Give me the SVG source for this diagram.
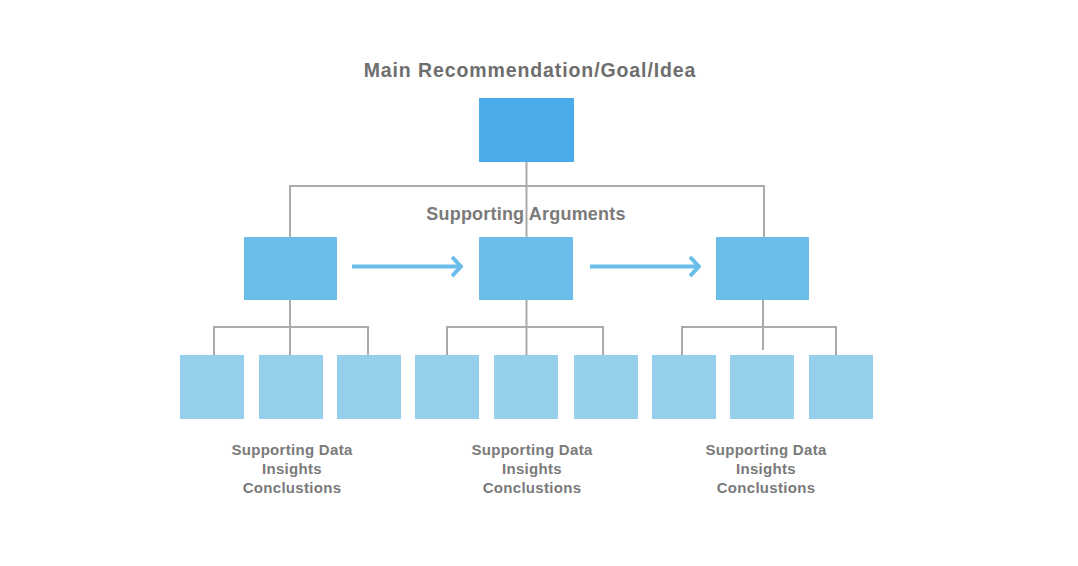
<svg xmlns="http://www.w3.org/2000/svg" width="1078" height="566" viewBox="0 0 1078 566">
<style>
.title{font-family:"Liberation Sans",Arial,sans-serif;font-weight:bold;font-size:19.5px;letter-spacing:0.9px;fill:#6e6e6e;text-anchor:middle}
.sub{font-family:"Liberation Sans",Arial,sans-serif;font-weight:bold;font-size:18px;letter-spacing:0.2px;fill:#7a7a7a;text-anchor:middle}
.lbl{font-family:"Liberation Sans",Arial,sans-serif;font-weight:bold;font-size:15px;letter-spacing:0.3px;fill:#7a7a7a;text-anchor:middle}
.top{fill:#4BAAE8}
.mid{fill:#6CBEEA}
.bot{fill:#95CFEC}
.ln{stroke:#ababab;stroke-width:2;fill:none}
.arr{stroke:#6CBEEA;stroke-width:4;fill:none;marker-end:url(#chev)}
</style>
<defs>
<marker id="chev" viewBox="0 0 12 22" refX="10" refY="11" markerWidth="12" markerHeight="22" markerUnits="userSpaceOnUse" orient="auto">
<polyline points="1,1.5 10,11 1,20.5" fill="none" stroke="#6CBEEA" stroke-width="4"/>
</marker>
</defs>
<rect width="1078" height="566" fill="#ffffff"/>
<g id="connectors">
<path class="ln" d="M526.5 162 V237 M290 186 H764 M290 185 V237 M764 185 V237"/>
<path class="ln" d="M290 300 V327 M214 327 H368 M214 326 V355 M290 327 V355 M368 326 V355"/>
<path class="ln" d="M526.5 300 V327 M447 327 H603 M447 326 V355 M526.5 327 V355 M603 326 V355"/>
<path class="ln" d="M763 300 V327 M682 327 H836 M682 326 V355 M763 327 V350 M836 326 V355"/>
<line class="arr" x1="352" y1="266.5" x2="461" y2="266.5"/>
<line class="arr" x1="590" y1="266.5" x2="699" y2="266.5"/>
</g>
<g id="title"><text class="title" x="530" y="77">Main Recommendation/Goal/Idea</text></g>
<g id="main"><rect class="top" x="479" y="98" width="95" height="64"/></g>
<g id="args-label"><text class="sub" x="526" y="220">Supporting Arguments</text></g>
<g id="arg1"><rect class="mid" x="244" y="237" width="93" height="63"/></g>
<g id="arg2"><rect class="mid" x="479" y="237" width="94" height="63"/></g>
<g id="arg3"><rect class="mid" x="716" y="237" width="93" height="63"/></g>
<g id="d1a"><rect class="bot" x="180" y="355" width="64" height="64"/></g>
<g id="d1b"><rect class="bot" x="259" y="355" width="64" height="64"/></g>
<g id="d1c"><rect class="bot" x="337" y="355" width="64" height="64"/></g>
<g id="d2a"><rect class="bot" x="415" y="355" width="64" height="64"/></g>
<g id="d2b"><rect class="bot" x="494" y="355" width="64" height="64"/></g>
<g id="d2c"><rect class="bot" x="574" y="355" width="64" height="64"/></g>
<g id="d3a"><rect class="bot" x="652" y="355" width="64" height="64"/></g>
<g id="d3b"><rect class="bot" x="730" y="355" width="64" height="64"/></g>
<g id="d3c"><rect class="bot" x="809" y="355" width="64" height="64"/></g>
<g id="label1"><text class="lbl" x="292" y="455">Supporting Data</text><text class="lbl" x="292" y="474">Insights</text><text class="lbl" x="292" y="493">Conclustions</text></g>
<g id="label2"><text class="lbl" x="532" y="455">Supporting Data</text><text class="lbl" x="532" y="474">Insights</text><text class="lbl" x="532" y="493">Conclustions</text></g>
<g id="label3"><text class="lbl" x="766" y="455">Supporting Data</text><text class="lbl" x="766" y="474">Insights</text><text class="lbl" x="766" y="493">Conclustions</text></g>
</svg>
